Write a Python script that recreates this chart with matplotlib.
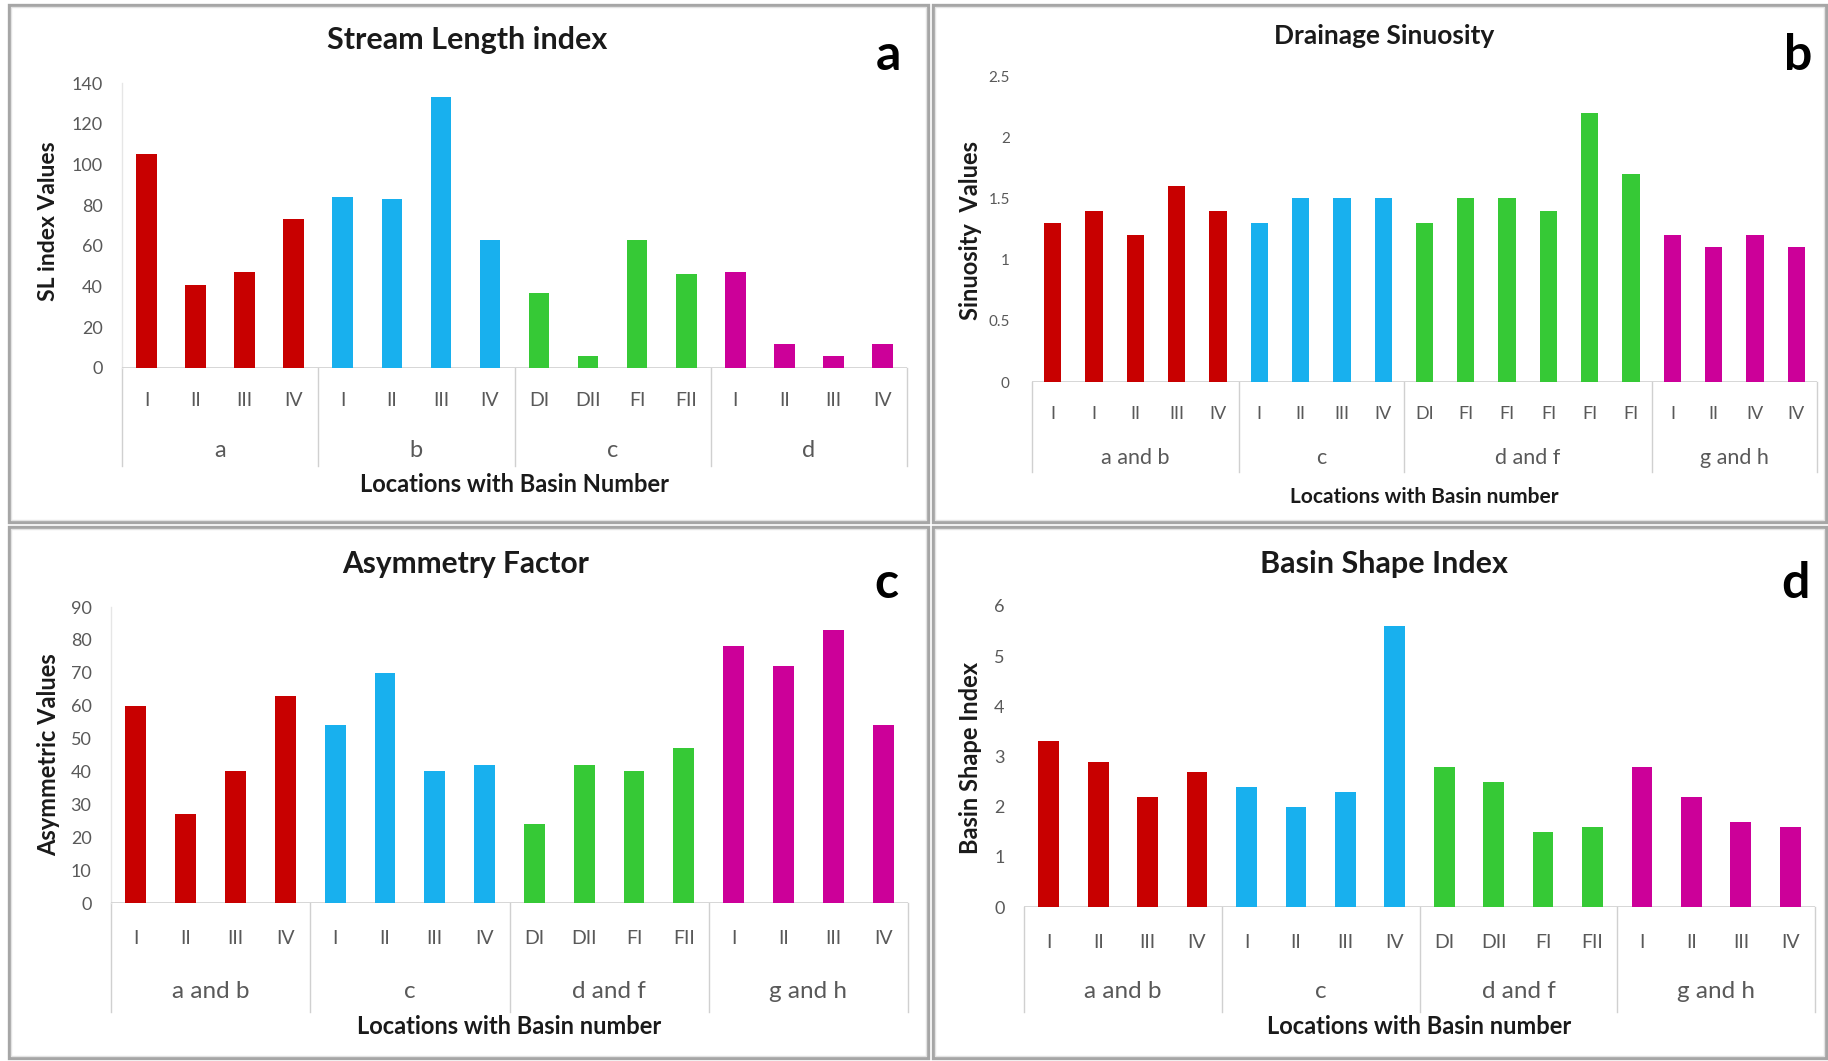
import matplotlib
matplotlib.use("Agg")
import matplotlib.pyplot as plt
from matplotlib.patches import Rectangle

plt.rcParams['font.family'] = ['Lato', 'DejaVu Sans']

# ---------------- data ----------------
RED, BLUE, GREEN, MAGENTA = "#C80000", "#18B0EE", "#36C936", "#CC0099"
group_colors = [RED, BLUE, GREEN, MAGENTA]

# (a) Stream Length index
sl_groups = ["a", "b", "c", "d"]
sl_labels = [["I", "II", "III", "IV"], ["I", "II", "III", "IV"],
             ["DI", "DII", "FI", "FII"], ["I", "II", "III", "IV"]]
sl_values = [[105, 41, 47, 73], [84, 83, 133, 63],
             [37, 6, 63, 46], [47, 12, 6, 12]]

# (b) Drainage Sinuosity
ds_groups = ["a and b", "c", "d and f", "g and h"]
ds_labels = [["I", "I", "II", "III", "IV"], ["I", "II", "III", "IV"],
             ["DI", "FI", "FI", "FI", "FI", "FI"], ["I", "II", "IV", "IV"]]
ds_values = [[1.3, 1.4, 1.2, 1.6, 1.4], [1.3, 1.5, 1.5, 1.5],
             [1.3, 1.5, 1.5, 1.4, 2.2, 1.7], [1.2, 1.1, 1.2, 1.1]]

# (c) Asymmetry Factor
af_groups = ["a and b", "c", "d and f", "g and h"]
af_labels = [["I", "II", "III", "IV"], ["I", "II", "III", "IV"],
             ["DI", "DII", "FI", "FII"], ["I", "II", "III", "IV"]]
af_values = [[60, 27, 40, 63], [54, 70, 40, 42],
             [24, 42, 40, 47], [78, 72, 83, 54]]

# (d) Basin Shape Index
bs_groups = ["a and b", "c", "d and f", "g and h"]
bs_labels = [["I", "II", "III", "IV"], ["I", "II", "III", "IV"],
             ["DI", "DII", "FI", "FII"], ["I", "II", "III", "IV"]]
bs_values = [[3.3, 2.9, 2.2, 2.7], [2.4, 2.0, 2.3, 5.6],
             [2.8, 2.5, 1.5, 1.6], [2.8, 2.2, 1.7, 1.6]]

sl_ticks = [0, 20, 40, 60, 80, 100, 120, 140]
ds_ticks = [0, 0.5, 1, 1.5, 2, 2.5]
ds_ticklabels = ["0", "0.5", "1", "1.5", "2", "2.5"]
af_ticks = [0, 10, 20, 30, 40, 50, 60, 70, 80, 90]
bs_ticks = [0, 1, 2, 3, 4, 5, 6]

# ---------------- figure ----------------
W, H = 1828, 1061
fig = plt.figure(figsize=(W / 100, H / 100), dpi=100)
fig.patch.set_facecolor("white")

# panel frames (grey double border)
for (x0, y0, x1, y1) in [(9, 5, 928, 522), (933, 5, 1826, 522),
                         (9, 527, 928, 1058), (933, 527, 1826, 1058)]:
    fig.patches.append(Rectangle((x0 / W, 1 - y1 / H), (x1 - x0) / W, (y1 - y0) / H,
                                 transform=fig.transFigure, fill=False,
                                 edgecolor="#a6a6a6", linewidth=2.4))
    fig.patches.append(Rectangle(((x0 + 2) / W, 1 - (y1 - 2) / H), (x1 - x0 - 4) / W,
                                 (y1 - y0 - 4) / H, transform=fig.transFigure,
                                 fill=False, edgecolor="#e3e3e3", linewidth=1.0))

TICK_GREY = "#595959"
LINE_GREY = "#d0d0d0"


def panel(box, groups, labels, values, ticks, ticklabels, ymax, title, title_xy,
          letter, letter_xy, ylabel, ylabel_xy, xlabel, cat_y, grp_y, sep_y, xlab_y,
          fs):
    x0, x1, ytop, ybase = box
    ax = fig.add_axes([x0 / W, 1 - ybase / H, (x1 - x0) / W, (ybase - ytop) / H])
    ax.set_facecolor("none")
    hpx = ybase - ytop

    xs, hs, cs, cats = [], [], [], []
    edges = [-0.5]
    i = 0
    for g, (labs, vals) in enumerate(zip(labels, values)):
        for lab, v in zip(labs, vals):
            xs.append(i); hs.append(v); cs.append(group_colors[g]); cats.append(lab)
            i += 1
        edges.append(i - 0.5)
    n = i
    ax.bar(xs, hs, width=0.42, color=cs, zorder=3)
    ax.set_xlim(-0.5, n - 0.5)
    ax.set_ylim(0, ymax)
    for s in ax.spines.values():
        s.set_visible(False)
    ax.axhline(0, color=LINE_GREY, lw=1.2, zorder=2)
    ax.set_xticks([])
    ax.set_yticks(ticks)
    ax.set_yticklabels(ticklabels, color=TICK_GREY, fontsize=fs["tick"])
    ax.tick_params(axis="y", length=0, pad=fs["pad"])

    tr = ax.get_xaxis_transform()
    f = lambda ypx: -(ypx - ybase) / hpx
    for x, lab in zip(xs, cats):
        ax.text(x, f(cat_y), lab, transform=tr, ha="center", va="center",
                fontsize=fs["cat"], color=TICK_GREY)
    for g, name in enumerate(groups):
        ax.text((edges[g] + edges[g + 1]) / 2, f(grp_y), name, transform=tr,
                ha="center", va="center", fontsize=fs["grp"], color=TICK_GREY)
    for e in edges:
        ax.plot([e, e], [0, f(sep_y)], transform=tr, color=LINE_GREY, lw=1.0,
                clip_on=False, zorder=1)
    if fs.get("yline"):
        ax.plot([-0.5, -0.5], [0, 1], transform=tr, color="#e6e6e6", lw=1.0,
                clip_on=False, zorder=1)

    fig.text(title_xy[0] / W, 1 - title_xy[1] / H, title, ha="center", va="center",
             fontsize=fs["title"], fontweight="bold", color="#1a1a1a")
    fig.text(letter_xy[0] / W, 1 - letter_xy[1] / H, letter, ha="center", va="center",
             fontsize=fs["letter"], fontweight="bold", color="black")
    fig.text(ylabel_xy[0] / W, 1 - ylabel_xy[1] / H, ylabel, ha="center", va="center",
             rotation=90, fontsize=fs["ylab"], fontweight="bold", color="#1a1a1a")
    fig.text(((x0 + x1) / 2) / W, 1 - xlab_y / H, xlabel, ha="center", va="center",
             fontsize=fs["xlab"], fontweight="bold", color="#1a1a1a")
    return ax


fs_a = dict(tick=13, cat=14, grp=17, title=22, letter=36, ylab=16.5, xlab=17,
            pad=14, yline=True)
fs_b = dict(tick=11, cat=13, grp=15.5, title=19, letter=36, ylab=17, xlab=15,
            pad=16, yline=False)
fs_c = dict(tick=13, cat=14, grp=17.5, title=21.5, letter=36, ylab=17, xlab=17,
            pad=14, yline=True)
fs_d = dict(tick=13, cat=14, grp=17.5, title=22, letter=36, ylab=17, xlab=17,
            pad=14, yline=False)

panel((122, 907, 83, 368), sl_groups, sl_labels, sl_values, sl_ticks,
      [str(t) for t in sl_ticks], 140, "Stream Length index", (467, 40),
      "a", (888, 55), "SL index Values", (49, 221),
      "Locations with Basin Number", 401, 451, 466, 485, fs_a)

panel((1032, 1817, 76, 382), ds_groups, ds_labels, ds_values, ds_ticks,
      ds_ticklabels, 2.5, "Drainage Sinuosity", (1384, 36),
      "b", (1798, 55), "Sinuosity  Values", (970, 230),
      "Locations with Basin number", 414, 458, 472, 497, fs_b)

panel((111, 908, 607, 903), af_groups, af_labels, af_values, af_ticks,
      [str(t) for t in af_ticks], 90, "Asymmetry Factor", (466, 564),
      "c", (886, 583), "Asymmetric Values", (49, 755),
      "Locations with Basin number", 938, 991, 1012, 1026, fs_c)

panel((1024, 1815, 606, 907), bs_groups, bs_labels, bs_values, bs_ticks,
      [str(t) for t in bs_ticks], 6, "Basin Shape Index", (1384, 564),
      "d", (1795, 583), "Basin Shape Index", (970, 758),
      "Locations with Basin number", 942, 992, 1012, 1027, fs_d)

fig.savefig("out.png", dpi=100, facecolor="white")
